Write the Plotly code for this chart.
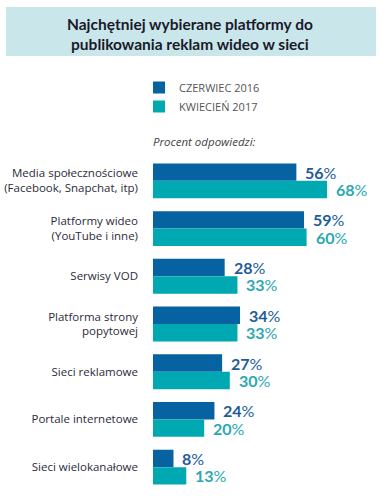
import plotly.graph_objects as go

categories = [
    "Media społecznościowe<br>(Facebook, Snapchat, itp)",
    "Platformy wideo<br>(YouTube i inne)",
    "Serwisy VOD",
    "Platforma strony<br>popytowej",
    "Sieci reklamowe",
    "Portale internetowe",
    "Sieci wielokanałowe",
]
series_names = ["CZERWIEC 2016", "KWIECIEŃ 2017"]
values_2016 = [56, 59, 28, 34, 27, 24, 8]
values_2017 = [68, 60, 33, 33, 30, 20, 13]

dark = "#0762a2"
teal = "#00a9b1"
dark_lbl = "#1d5c9a"
teal_lbl = "#2aa8b2"

W, H = 382, 501
ml, mr, mt, mb = 153, 0, 157, 10
pw = W - ml - mr
ph = H - mt - mb
xmax = pw / 2.56
bargap = 0.27

fig = go.Figure()
fig.add_trace(go.Bar(y=categories, x=values_2016, orientation="h", name=series_names[0],
                     marker=dict(color=dark, line=dict(width=0)), hoverinfo="x"))
fig.add_trace(go.Bar(y=categories, x=values_2017, orientation="h", name=series_names[1],
                     marker=dict(color=teal, line=dict(width=0)), hoverinfo="x"))

off = (1 - bargap) / 4
annotations = []
for i, (a, b) in enumerate(zip(values_2016, values_2017)):
    for v, dy, col in ((a, -off, dark_lbl), (b, off, teal_lbl)):
        annotations.append(dict(
            x=v, y=i + dy, xref="x", yref="y", xanchor="left", yanchor="middle",
            xshift=7, showarrow=False,
            text=f"<b>{v}</b>%",
            font=dict(family="Lato, Open Sans, sans-serif", size=16, color=col),
        ))

def px(x):
    return (x - ml) / pw

def py(y):
    return (H - mb - y) / ph

annotations.append(dict(
    x=px(190), y=py(34), xref="paper", yref="paper", xanchor="center", yanchor="middle",
    showarrow=False,
    text="<b>Najchętniej wybierane platformy do<br>publikowania reklam wideo w sieci</b>",
    font=dict(family="Lato, Open Sans, sans-serif", size=15.5, color="#1a1a2a"),
))
annotations.append(dict(
    x=px(151), y=py(141), xref="paper", yref="paper", xanchor="left", yanchor="middle",
    showarrow=False, text="<i>Procent odpowiedzi:</i>",
    font=dict(family="Open Sans, sans-serif", size=11.5, color="#444444"),
))

shapes = [dict(type="rect", xref="paper", yref="paper",
               x0=px(6), x1=px(376), y0=py(56), y1=py(7),
               fillcolor="#c9e6ea", line=dict(width=0), layer="below")]

fig.update_layout(
    width=W, height=H,
    margin=dict(l=ml, r=mr, t=mt, b=mb, pad=0, autoexpand=False),
    paper_bgcolor="white", plot_bgcolor="white",
    barmode="group", bargap=bargap, bargroupgap=0,
    showlegend=True,
    legend=dict(x=px(139), y=py(73), xanchor="left", yanchor="top",
                font=dict(family="Open Sans, sans-serif", size=11, color="#555555"),
                traceorder="normal", bgcolor="rgba(0,0,0,0)"),
    xaxis=dict(range=[0, xmax], visible=False, fixedrange=True, automargin=False),
    yaxis=dict(autorange="reversed", showgrid=False, zeroline=False, showline=False,
               ticks="", ticklabelstandoff=14, automargin=False,
               tickfont=dict(family="Open Sans, sans-serif", size=11.5, color="#2b2b3b")),
    annotations=annotations, shapes=shapes,
)

fig.write_html("out.html", config={"displayModeBar": False},
               post_script="document.body.style.margin='0';")
